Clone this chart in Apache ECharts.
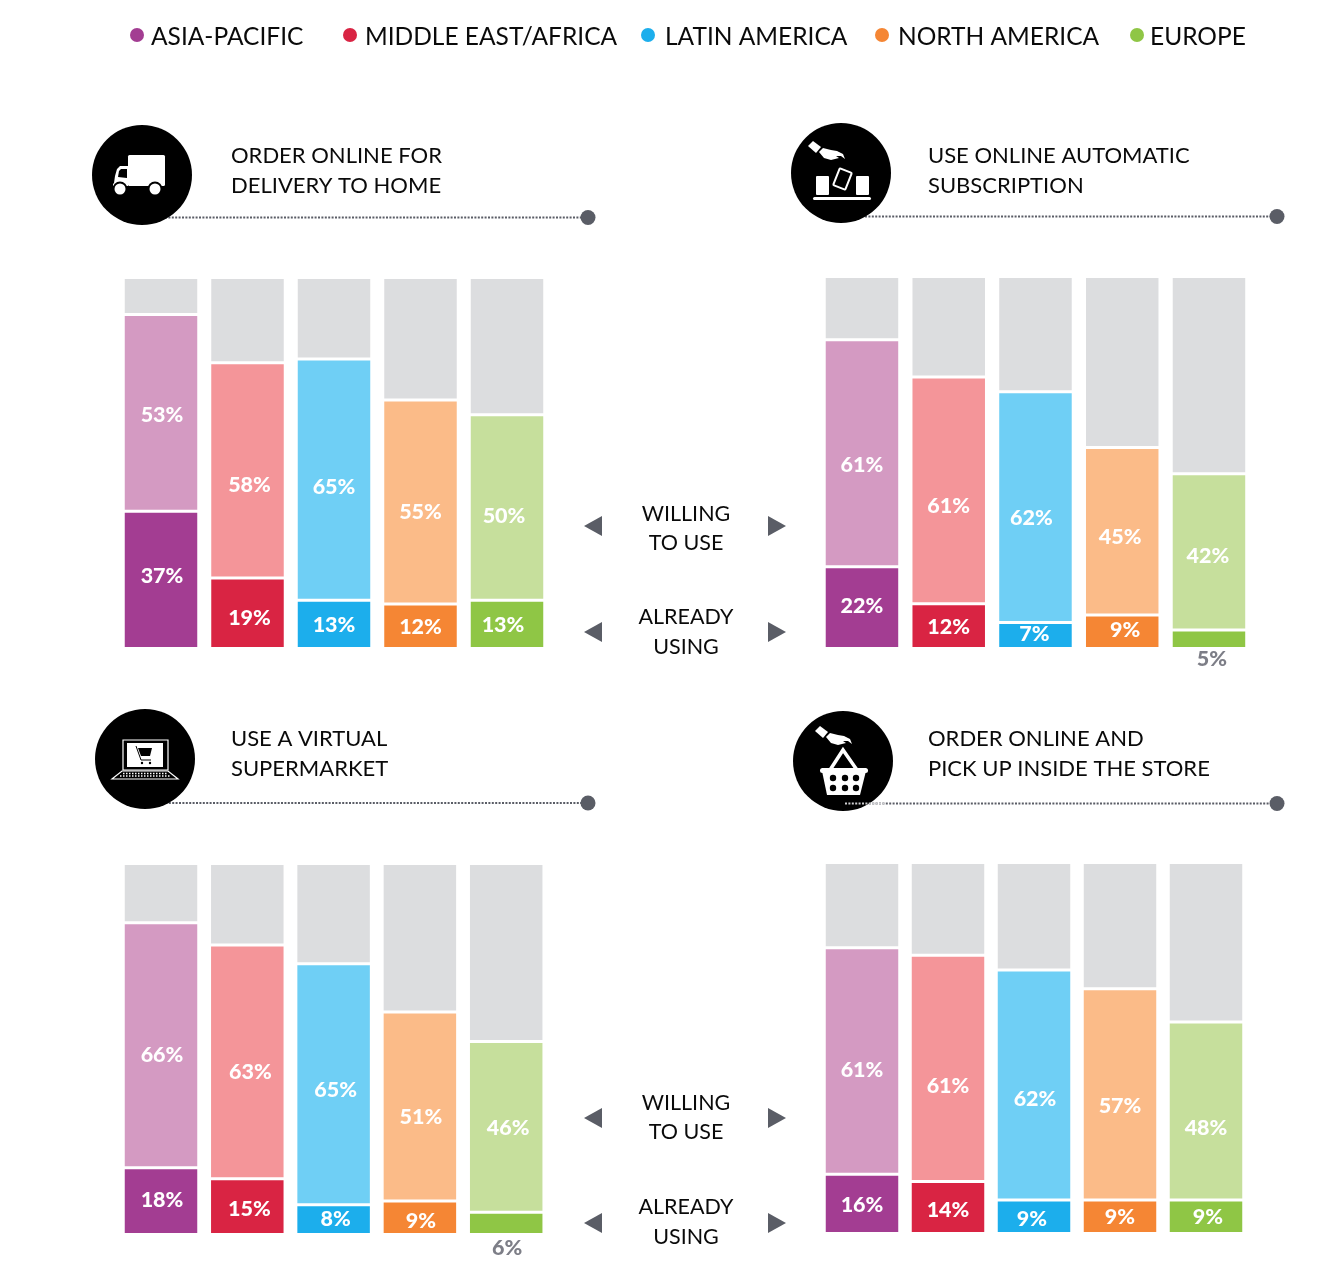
<!DOCTYPE html>
<html>
<head>
<meta charset="utf-8">
<style>
  html, body { margin: 0; padding: 0; background: #fff; }
  #chart { width: 1334px; height: 1272px; }
</style>
<script src="https://cdn.jsdelivr.net/npm/echarts@6/dist/echarts.min.js"></script>
</head>
<body>
<div id="chart"></div>
<script>
const regions = ['ASIA-PACIFIC', 'MIDDLE EAST/AFRICA', 'LATIN AMERICA', 'NORTH AMERICA', 'EUROPE'];

const deliveryAlready = [37, 19, 13, 12, 13];
const deliveryWilling = [53, 58, 65, 55, 50];
const deliveryRest = [10, 23, 22, 33, 37];

const subscriptionAlready = [22, 12, 7, 9, 5];
const subscriptionWilling = [61, 61, 62, 45, 42];
const subscriptionRest = [17, 27, 31, 46, 53];

const supermarketAlready = [18, 15, 8, 9, 6];
const supermarketWilling = [66, 63, 65, 51, 46];
const supermarketRest = [16, 22, 27, 40, 48];

const pickupAlready = [16, 14, 9, 9, 9];
const pickupWilling = [61, 61, 62, 57, 48];
const pickupRest = [23, 25, 29, 34, 43];

const darkColors = ['#a33d92', '#d92443', '#1caeec', '#f58634', '#8fc645'];
const lightColors = ['#d49ac2', '#f49599', '#6fcff5', '#fbbb88', '#c6df9c'];
const restColor = '#dcdddf';
const arrowColor = '#5a5d66';
const font = 'Lato';

// one grid per panel; the nudges are the [dx, dy] by which the original's labels sit off centre
const panels = [
  {
    left: 117.75, top: 277.5, width: 432.5, height: 371, already: deliveryAlready, willing: deliveryWilling, rest: deliveryRest,
    alreadyNudge: [[1, -4], [2, 5], [0, 1], [0, 1], [-4, 1]],
    willingNudge: [[1, 2], [2, 15], [0, 7], [0, 10], [-3, 9]],
  },
  {
    left: 818.6, top: 276.5, width: 433.75, height: 372, already: subscriptionAlready, willing: subscriptionWilling, rest: subscriptionRest,
    alreadyNudge: [[0, -2], [0, 1], [-1, -1], [3, -2], [3, -1]],
    willingNudge: [[0, 12], [0, 16], [-4, 11], [-2, 6], [-1, 4]],
  },
  {
    left: 117.85, top: 863.5, width: 431.5, height: 371, already: supermarketAlready, willing: supermarketWilling, rest: supermarketRest,
    alreadyNudge: [[1, -1], [2, 2], [2, -1], [1, 3], [1, 2]],
    willingNudge: [[1, 10], [3, 10], [2, 6], [1, 11], [2, 1]],
  },
  {
    left: 819, top: 862.5, width: 430, height: 371, already: pickupAlready, willing: pickupWilling, rest: pickupRest,
    alreadyNudge: [[0, 1], [0, 3], [-2, 2], [0, 0], [2, 0]],
    willingNudge: [[0, 9], [0, 18], [1, 14], [0, 12], [0, 17]],
  },
];

const barLabel = { show: true, position: 'inside', color: '#fff', fontFamily: font, fontWeight: 900, fontSize: 21.5, formatter: '{c}%' };

function barSeries(name, idx, values, colors, label, nudge) {
  return {
    name: name,
    type: 'bar',
    stack: 'panel' + idx,
    xAxisIndex: idx,
    yAxisIndex: idx,
    barWidth: 75.5,
    silent: true,
    data: values.map((v, i) => {
      const item = { value: v, itemStyle: { color: Array.isArray(colors) ? colors[i] : colors, borderColor: '#fff', borderWidth: 1.5 } };
      if (label) {
        item.label = { offset: nudge[i] };
        if (v < 7) {
          // too thin to hold its label, so it goes under the bar
          item.label = { offset: nudge[i], position: 'bottom', distance: 1, color: '#7d7e87' };
        }
      }
      return item;
    }),
    label: label || { show: false },
  };
}

const series = [];
panels.forEach((p, idx) => {
  series.push(barSeries('Already using', idx, p.already, darkColors, barLabel, p.alreadyNudge));
  series.push(barSeries('Willing to use', idx, p.willing, lightColors, barLabel, p.willingNudge));
  series.push(barSeries('Rest', idx, p.rest, restColor, null));
});

function txt(x, y, text, size, align) {
  return { type: 'text', x: x, y: y, silent: true, style: { text: text, fill: '#0a0a0a', fontFamily: font, fontSize: size, align: align || 'left', verticalAlign: 'middle' } };
}

const graphics = [];

// legend row
const legendDots = [137, 350, 648, 882, 1137];
const legendText = [151, 365, 665, 898, 1150];
regions.forEach((r, i) => {
  graphics.push({ type: 'circle', shape: { cx: legendDots[i], cy: 35, r: 7 }, style: { fill: darkColors[i] }, silent: true });
  graphics.push(txt(legendText[i], 37.5, r, 24.5));
});

// panel titles
graphics.push(txt(231, 155.5, 'ORDER ONLINE FOR', 22), txt(231, 185.5, 'DELIVERY TO HOME', 22));
graphics.push(txt(928, 155.5, 'USE ONLINE AUTOMATIC', 22), txt(928, 185.5, 'SUBSCRIPTION', 22));
graphics.push(txt(231, 738.5, 'USE A VIRTUAL', 22), txt(231, 768.5, 'SUPERMARKET', 22));
graphics.push(txt(928, 738.5, 'ORDER ONLINE AND', 22), txt(928, 768.5, 'PICK UP INSIDE THE STORE', 22));

// middle captions and arrows
[[514, 543, 617, 647, 526, 632], [1103, 1132, 1207, 1237, 1118, 1223]].forEach((r) => {
  graphics.push(txt(686, r[0], 'WILLING', 21.5, 'center'), txt(686, r[1], 'TO USE', 21.5, 'center'));
  graphics.push(txt(686, r[2], 'ALREADY', 21.5, 'center'), txt(686, r[3], 'USING', 21.5, 'center'));
  [r[4], r[5]].forEach((y) => {
    graphics.push({ type: 'polygon', shape: { points: [[584, y], [602, y - 10], [602, y + 10]] }, style: { fill: arrowColor }, silent: true });
    graphics.push({ type: 'polygon', shape: { points: [[786, y], [768, y - 10], [768, y + 10]] }, style: { fill: arrowColor }, silent: true });
  });
});

// dotted rules with their end dots
function rule(x1, x2, y) {
  graphics.push({ type: 'line', shape: { x1: x1, y1: y, x2: x2, y2: y }, style: { stroke: arrowColor, lineWidth: 2, lineDash: [2, 1.4] }, silent: true });
  graphics.push({ type: 'circle', shape: { cx: x2, cy: y, r: 7.5 }, style: { fill: arrowColor }, silent: true });
}
rule(165, 588, 217.5);
rule(865, 1277, 216.5);
rule(162, 588, 803);
rule(845, 1277, 803.5);

const white = { fill: '#fff' };
const ink = { fill: '#000' };

function badge(cx, cy, children) {
  graphics.push({ type: 'circle', shape: { cx: cx, cy: cy, r: 50 }, style: { fill: '#000' }, silent: true, z: 1 });
  // children keep their own order, each with z 2 so they sit on the disc
  graphics.push({ type: 'group', x: cx, y: cy, silent: true, children: children.map((c) => Object.assign({ z: 2 }, c)) });
}

// cuff and open hand, used by two badges
function hand(x, y) {
  const at = (pts) => pts.map((q) => [q[0] + x, q[1] + y]);
  return [
    { type: 'polygon', shape: { points: at([[-9, -3], [-4, -8], [4, -2], [-1, 4]]) }, style: white },
    { type: 'polygon', shape: { points: at([[2, 3], [6, -1], [14, 1], [20, 2], [26, 5], [28, 10], [24, 7], [19, 7], [22, 9], [14, 11], [7, 9]]) }, style: white },
  ];
}

// truck
badge(142, 175, [
  { type: 'rect', shape: { x: -14, y: -20, width: 37, height: 31, r: 1.5 }, style: white },
  { type: 'polygon', shape: { points: [[-14, -9], [-22, -9], [-25, -6], [-27, 1], [-28, 8], [-29, 9], [-29, 11], [-14, 11]] }, style: white },
  { type: 'polygon', shape: { points: [[-15, -6], [-21, -6], [-23, -4], [-24, 2], [-15, 3]] }, style: ink },
  { type: 'circle', shape: { cx: -22, cy: 14, r: 7.5 }, style: ink },
  { type: 'circle', shape: { cx: 13, cy: 14, r: 7.5 }, style: ink },
  { type: 'circle', shape: { cx: -22, cy: 14, r: 5.5 }, style: white },
  { type: 'circle', shape: { cx: 13, cy: 14, r: 5.5 }, style: white },
]);

// tilted box on a conveyor
badge(841, 173, [
  { type: 'rect', shape: { x: -28, y: 24, width: 58, height: 3, r: 1.5 }, style: white },
  { type: 'rect', shape: { x: -25, y: 3, width: 13, height: 19, r: 1 }, style: white },
  { type: 'rect', shape: { x: 15, y: 3, width: 13, height: 19, r: 1 }, style: white },
  { type: 'rect', x: 1.5, y: 6, rotation: -0.38, shape: { x: -6.5, y: -9, width: 13, height: 18, r: 1 }, style: { fill: 'none', stroke: '#fff', lineWidth: 2 } },
  ...hand(-24, -24),
]);

// laptop with a cart
badge(145, 759, [
  { type: 'rect', shape: { x: -22, y: -19, width: 45, height: 30 }, style: { fill: 'none', stroke: '#fff', lineWidth: 1.2 } },
  { type: 'rect', shape: { x: -18, y: -16, width: 36, height: 24 }, style: white },
  { type: 'polygon', shape: { points: [[-23, 12], [23, 12], [33, 20], [-33, 20]] }, style: { fill: 'none', stroke: '#fff', lineWidth: 1.2 } },
  { type: 'line', shape: { x1: -22, y1: 14.5, x2: 22, y2: 14.5 }, style: { stroke: '#fff', lineWidth: 1.5, lineDash: [1.5, 1.5] } },
  { type: 'line', shape: { x1: -25, y1: 17, x2: 25, y2: 17 }, style: { stroke: '#fff', lineWidth: 1.5, lineDash: [1.5, 1.5] } },
  { type: 'polygon', z: 3, shape: { points: [[-7, -11], [7, -11], [5, -3], [-4, -3]] }, style: ink },
  { type: 'line', z: 3, shape: { x1: -9, y1: -13, x2: -4, y2: 1 }, style: { stroke: '#000', lineWidth: 1 } },
  { type: 'line', z: 3, shape: { x1: -4, y1: 1, x2: 6, y2: 1 }, style: { stroke: '#000', lineWidth: 1 } },
  { type: 'circle', z: 3, shape: { cx: -3, cy: 4, r: 1.2 }, style: ink },
  { type: 'circle', z: 3, shape: { cx: 5, cy: 4, r: 1.2 }, style: ink },
]);

// basket
badge(843, 761, [
  { type: 'polyline', shape: { points: [[-13, 9], [0, -11], [14, 9]] }, style: { fill: 'none', stroke: '#fff', lineWidth: 3.5 } },
  { type: 'rect', shape: { x: -23, y: 7, width: 48, height: 5, r: 2.5 }, style: white },
  { type: 'polygon', shape: { points: [[-21, 10], [23, 10], [17, 34], [-16, 34]] }, style: white },
  ...[[-10, 17], [2, 17], [13, 17], [-10, 27], [2, 27], [13, 27]].map((c) => ({ type: 'circle', z: 3, shape: { cx: c[0], cy: c[1], r: 3.2 }, style: ink })),
  ...hand(-19, -27),
]);

// the part of the rule that runs over the basket badge
graphics.push({ type: 'line', z: 3, shape: { x1: 845, y1: 803.5, x2: 885, y2: 803.5 }, style: { stroke: '#cfcfd2', lineWidth: 2, lineDash: [2, 1.4] }, silent: true });

const chart = echarts.init(document.getElementById('chart'));
chart.setOption({
  animation: false,
  backgroundColor: '#fff',
  grid: panels.map((p) => ({ left: p.left, top: p.top, width: p.width, height: p.height })),
  xAxis: panels.map((p, i) => ({ type: 'category', gridIndex: i, data: regions, show: false })),
  yAxis: panels.map((p, i) => ({ type: 'value', gridIndex: i, min: 0, max: 100, show: false })),
  series: series,
  graphic: { elements: graphics },
});
</script>
</body>
</html>
